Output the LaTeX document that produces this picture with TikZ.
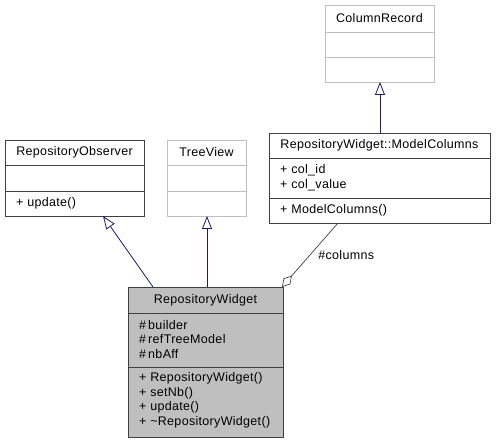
\documentclass[tikz,border=0pt]{standalone}
\usepackage{fontspec}
\setmainfont[LetterSpace=2.5]{Liberation Sans}
\usetikzlibrary{arrows.meta,shapes.geometric}
\definecolor{edgeblue}{HTML}{191970}
\definecolor{lightframe}{HTML}{BFBFBF}
\definecolor{aggrgray}{HTML}{404040}
\tikzset{
  every node/.style={font=\fontsize{12.5}{14.5}\selectfont, inner sep=0pt},
  classbox/.style={draw=black!75, line width=0.9pt, rectangle, anchor=north west, inner sep=0pt},
  extbox/.style={draw=lightframe, line width=0.9pt, rectangle, anchor=north west, inner sep=0pt},
  title/.style={anchor=center},
  member/.style={anchor=west, align=left},
  inherit/.style={draw=edgeblue, line width=0.8pt, -{Triangle[open, length=13pt, width=10pt]}},
  aggr/.style={draw=aggrgray, line width=0.7pt, {Diamond[open, length=15pt, width=9pt]}-},
}
\begin{document}
\begin{tikzpicture}[x=1pt, y=-1pt]
\useasboundingbox (0,0) rectangle (496,443);

% ColumnRecord (external class)
\node[extbox, minimum width=109pt, minimum height=77pt] (colrec) at (325,5) {};
\draw[lightframe, line width=0.9pt] (325,32) -- (434,32) (325,57) -- (434,57);
\node[title] (colrecT) at (379.5,18.5) {ColumnRecord};

% RepositoryWidget::ModelColumns
\node[classbox, minimum width=221pt, minimum height=90pt] (mcols) at (269,133) {};
\draw[black!75, line width=0.9pt] (269,158) -- (490,158) (269,198) -- (490,198);
\node[title] (mcolsT) at (379.5,145.5) {RepositoryWidget::ModelColumns};
\node[member] (mcolsA) at (280,177.5) {+ col\_id\\+ col\_value};
\node[member] (mcolsM) at (280,210.5) {+ ModelColumns()};

% RepositoryObserver
\node[classbox, minimum width=139pt, minimum height=76pt] (obs) at (5,140) {};
\draw[black!75, line width=0.9pt] (5,165) -- (144,165) (5,191) -- (144,191);
\node[title] (obsT) at (74.5,152.5) {RepositoryObserver};
\node[member] (obsM) at (16,203.5) {+ update()};

% TreeView (external class)
\node[extbox, minimum width=79pt, minimum height=76pt] (tree) at (167,140) {};
\draw[lightframe, line width=0.9pt] (167,165) -- (246,165) (167,191) -- (246,191);
\node[title] (treeT) at (206.5,152.5) {TreeView};

% RepositoryWidget
\node[classbox, fill=lightframe, minimum width=155pt, minimum height=150pt] (widget) at (128,287) {};
\draw[black!75, line width=0.9pt] (128,313) -- (283,313) (128,367) -- (283,367);
\node[title] (widgetT) at (205.5,300) {RepositoryWidget};
\node[member] (widgetA) at (139,339.5) {\#\,builder\\\#\,refTreeModel\\\#\,nbAff};
\node[member] (widgetM) at (139,400.5) {+ RepositoryWidget()\\+ setNb()\\+ update()\\+ \textasciitilde RepositoryWidget()};

% connectors
\coordinate (wObs) at (153,287);
\coordinate (obsTip) at (103,216);
\coordinate (wTree) at (207,287);
\coordinate (treeTip) at (207,216);
\coordinate (mcolsTop) at (380,133);
\coordinate (colrecTip) at (380,82);
\coordinate (wDia) at (282,287);
\coordinate (mcolsBot) at (338,223);

\draw[inherit] (wObs) -- (obsTip);
\draw[inherit] (wTree) -- (treeTip);
\draw[inherit] (mcolsTop) -- (colrecTip);
\draw[aggr] (wDia) -- (mcolsBot) node[pos=0.5, right=8pt, anchor=west] (colLbl) {\#columns};
\end{tikzpicture}
\end{document}
